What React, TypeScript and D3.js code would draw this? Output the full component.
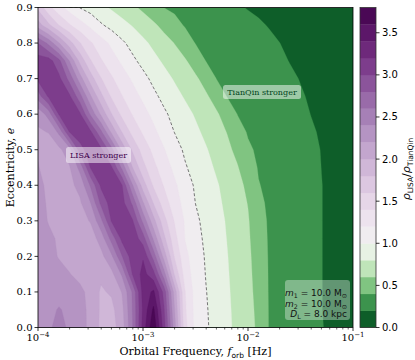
import React from "react";
import * as d3 from "d3";

// ---------- data ----------
// grid columns: log10(f_orb) from -4 to -1 in steps of 0.1 (31 columns)
const logFreqCols: number[] = d3.range(31).map((i) => -4 + i * 0.1);
// grid rows: eccentricity 0 .. 0.9 in steps of 0.05 (19 rows)
const eccRows: number[] = d3.range(19).map((i) => +(i * 0.05).toFixed(2));

// rho_LISA / rho_TianQin, one row per eccentricity
const ratioGrid: number[][] = [
  /* e=0.00 */ [2.30, 2.36, 2.48, 2.36, 2.28, 2.15, 1.96, 1.92, 2.10, 2.59, 3.28, 3.77, 3.09, 2.29, 1.47, 1.14, 1.025, 0.93, 0.84, 0.754, 0.67, 0.564, 0.392, 0.355, 0.317, 0.28, 0.243, 0.205, 0.179, 0.155, 0.13],
  /* e=0.05 */ [2.30, 2.33, 2.42, 2.34, 2.27, 2.15, 1.97, 1.945, 2.14, 2.61, 3.24, 3.64, 3.02, 2.21, 1.43, 1.133, 1.017, 0.923, 0.834, 0.748, 0.664, 0.552, 0.391, 0.353, 0.315, 0.277, 0.24, 0.202, 0.177, 0.153, 0.13],
  /* e=0.10 */ [2.30, 2.30, 2.30, 2.28, 2.26, 2.125, 1.975, 2.025, 2.21, 2.625, 3.28, 3.44, 2.93, 2.125, 1.41, 1.126, 1.006, 0.915, 0.826, 0.74, 0.656, 0.536, 0.389, 0.352, 0.314, 0.277, 0.239, 0.202, 0.177, 0.153, 0.13],
  /* e=0.15 */ [2.30, 2.28, 2.254, 2.21, 2.131, 2.05, 2.038, 2.143, 2.429, 3.012, 3.271, 3.073, 2.49, 1.785, 1.309, 1.112, 0.992, 0.904, 0.817, 0.732, 0.648, 0.522, 0.388, 0.351, 0.314, 0.277, 0.239, 0.202, 0.177, 0.153, 0.13],
  /* e=0.20 */ [2.30, 2.25, 2.19, 2.12, 2.08, 2.07, 2.14, 2.36, 2.79, 3.11, 3.18, 2.725, 2.125, 1.583, 1.257, 1.097, 0.98, 0.894, 0.808, 0.724, 0.64, 0.508, 0.386, 0.349, 0.312, 0.275, 0.239, 0.202, 0.177, 0.153, 0.13],
  /* e=0.25 */ [2.29, 2.237, 2.177, 2.118, 2.06, 2.095, 2.283, 2.675, 3.057, 3.131, 2.90, 2.368, 1.853, 1.471, 1.195, 1.069, 0.961, 0.878, 0.796, 0.712, 0.628, 0.488, 0.383, 0.347, 0.311, 0.275, 0.238, 0.202, 0.177, 0.153, 0.13],
  /* e=0.30 */ [2.28, 2.19, 2.135, 2.10, 2.125, 2.215, 2.55, 3.02, 3.15, 3.02, 2.55, 2.07, 1.673, 1.389, 1.181, 1.039, 0.943, 0.864, 0.784, 0.702, 0.616, 0.469, 0.38, 0.344, 0.308, 0.273, 0.237, 0.202, 0.177, 0.153, 0.13],
  /* e=0.35 */ [2.26, 2.178, 2.124, 2.10, 2.173, 2.395, 2.85, 3.094, 3.075, 2.763, 2.225, 1.791, 1.495, 1.296, 1.135, 0.998, 0.921, 0.842, 0.761, 0.678, 0.593, 0.437, 0.374, 0.339, 0.305, 0.27, 0.236, 0.202, 0.177, 0.153, 0.13],
  /* e=0.40 */ [2.25, 2.16, 2.11, 2.15, 2.26, 2.625, 3.04, 3.13, 3.01, 2.417, 1.90, 1.573, 1.386, 1.236, 1.093, 0.974, 0.896, 0.819, 0.738, 0.658, 0.557, 0.407, 0.368, 0.335, 0.302, 0.268, 0.235, 0.202, 0.177, 0.153, 0.13],
  /* e=0.45 */ [2.21, 2.125, 2.119, 2.184, 2.467, 3.0125, 3.144, 3.025, 2.553, 2.003, 1.664, 1.452, 1.297, 1.155, 1.019, 0.933, 0.856, 0.776, 0.694, 0.612, 0.484, 0.388, 0.356, 0.325, 0.293, 0.262, 0.23, 0.199, 0.174, 0.149, 0.125],
  /* e=0.50 */ [2.18, 2.11, 2.156, 2.317, 2.917, 3.12, 3.05, 2.675, 2.15, 1.769, 1.517, 1.353, 1.213, 1.081, 0.97, 0.893, 0.815, 0.732, 0.648, 0.547, 0.424, 0.376, 0.346, 0.316, 0.286, 0.256, 0.226, 0.196, 0.171, 0.145, 0.12],
  /* e=0.55 */ [2.18, 2.206, 2.444, 3.006, 3.132, 3.0375, 2.643, 2.159, 1.793, 1.536, 1.375, 1.244, 1.118, 0.996, 0.917, 0.838, 0.758, 0.677, 0.594, 0.467, 0.386, 0.358, 0.329, 0.30, 0.271, 0.242, 0.214, 0.187, 0.161, 0.136, 0.11],
  /* e=0.60 */ [2.25, 2.48, 3.02, 3.14, 3.03, 2.57, 2.17, 1.81, 1.55, 1.39, 1.27, 1.15, 1.033, 0.942, 0.862, 0.781, 0.704, 0.626, 0.513, 0.396, 0.368, 0.34, 0.312, 0.284, 0.256, 0.228, 0.198, 0.175, 0.15, 0.125, 0.10],
  /* e=0.65 */ [2.70, 3.027, 3.139, 3.036, 2.674, 2.229, 1.857, 1.576, 1.408, 1.282, 1.161, 1.044, 0.948, 0.864, 0.782, 0.705, 0.629, 0.516, 0.396, 0.37, 0.343, 0.317, 0.291, 0.264, 0.238, 0.211, 0.187, 0.164, 0.141, 0.118, 0.095],
  /* e=0.70 */ [3.05, 3.14, 3.05, 2.73, 2.29, 1.90, 1.61, 1.425, 1.294, 1.172, 1.056, 0.954, 0.867, 0.782, 0.707, 0.632, 0.52, 0.396, 0.371, 0.346, 0.32, 0.295, 0.27, 0.245, 0.219, 0.195, 0.174, 0.153, 0.132, 0.111, 0.09],
  /* e=0.75 */ [3.10, 3.09, 2.86, 2.39, 1.94, 1.615, 1.418, 1.288, 1.165, 1.041, 0.942, 0.854, 0.771, 0.696, 0.621, 0.506, 0.395, 0.37, 0.345, 0.32, 0.295, 0.27, 0.245, 0.22, 0.196, 0.177, 0.158, 0.138, 0.119, 0.099, 0.08],
  /* e=0.80 */ [2.80, 2.55, 2.21, 1.88, 1.61, 1.425, 1.288, 1.159, 1.035, 0.935, 0.843, 0.758, 0.677, 0.595, 0.484, 0.394, 0.37, 0.346, 0.322, 0.298, 0.274, 0.249, 0.225, 0.201, 0.182, 0.163, 0.145, 0.126, 0.107, 0.089, 0.07],
  /* e=0.85 */ [2.10, 1.85, 1.60, 1.42, 1.288, 1.156, 1.025, 0.939, 0.864, 0.789, 0.711, 0.633, 0.545, 0.45, 0.388, 0.364, 0.339, 0.314, 0.289, 0.265, 0.24, 0.215, 0.194, 0.177, 0.16, 0.144, 0.127, 0.11, 0.094, 0.077, 0.06],
  /* e=0.90 */ [1.75, 1.46, 1.267, 1.119, 0.993, 0.921, 0.848, 0.777, 0.707, 0.637, 0.56, 0.476, 0.398, 0.371, 0.345, 0.319, 0.293, 0.266, 0.24, 0.214, 0.193, 0.179, 0.165, 0.15, 0.136, 0.122, 0.107, 0.093, 0.079, 0.064, 0.05],
];

// contour levels 0.0 .. 3.8 step 0.2
const levels: number[] = d3.range(20).map((i) => +(i * 0.2).toFixed(1));
const cbTicks: number[] = [0, 0.5, 1.0, 1.5, 2.0, 2.5, 3.0, 3.5];
const xMajorTicks: number[] = [1e-4, 1e-3, 1e-2, 1e-1];
const xMajorExps: number[] = [-4, -3, -2, -1];
const yTicks: number[] = d3.range(10).map((i) => +(i * 0.1).toFixed(1));
const paramLines: string[][] = [
  ["m", "1", " = 10.0 M"],
  ["m", "2", " = 10.0 M"],
  ["D", "L", " = 8.0 kpc"],
];
const CENTER = 1.0;

// ---------- layout ----------
const P = { left: 38, right: 353, top: 7.5, bottom: 327.5 };
const CB = { left: 360, right: 376 };

const norm = (v: number) =>
  v < CENTER ? 0.5 * (v / CENTER) : 0.5 + 0.5 * ((v - CENTER) / (levels[levels.length - 1] - CENTER));
const bandColor = (lo: number) => d3.interpolatePRGn(1 - norm(lo + 0.1));

export default function App() {
  const nx = logFreqCols.length;
  const ny = eccRows.length;
  const values = ratioGrid.flat();

  const xScale = d3.scaleLog().domain([1e-4, 1e-1]).range([P.left, P.right]);
  const yScale = d3.scaleLinear().domain([0, 0.9]).range([P.bottom, P.top]);
  const colIdx = d3.scaleLinear().domain([0, nx - 1]).range([logFreqCols[0], logFreqCols[nx - 1]]).clamp(true);
  const rowIdx = d3.scaleLinear().domain([0, ny - 1]).range([eccRows[0], eccRows[ny - 1]]).clamp(true);
  const px = (c: number) => xScale(Math.pow(10, colIdx(c - 0.5)));
  const py = (c: number) => yScale(rowIdx(c - 0.5));

  const proj = d3.geoTransform({
    point(x: number, y: number) {
      (this as any).stream.point(px(x), py(y));
    },
  });
  const path = d3.geoPath(proj);

  const gen = d3.contours().size([nx, ny]).thresholds(levels.slice(1, levels.length - 1));
  const polys = gen(values);

  // dashed contour at ratio = 1
  const one = d3.contours().size([nx, ny]).contour(values, CENTER);
  let dashed = "";
  const onEdge = (a: number[], b: number[]) =>
    (a[0] === 0 && b[0] === 0) || (a[0] === nx && b[0] === nx) || (a[1] === 0 && b[1] === 0) || (a[1] === ny && b[1] === ny);
  one.coordinates.forEach((poly: number[][][]) => {
    poly.forEach((ring) => {
      let pen = false;
      for (let i = 1; i < ring.length; i++) {
        const a = ring[i - 1], b = ring[i];
        if (onEdge(a, b)) { pen = false; continue; }
        if (!pen) { dashed += `M${px(a[0]).toFixed(2)},${py(a[1]).toFixed(2)}`; pen = true; }
        dashed += `L${px(b[0]).toFixed(2)},${py(b[1]).toFixed(2)}`;
      }
    });
  });

  const cbY = d3.scaleLinear().domain([0, levels[levels.length - 1]]).range([P.bottom, P.top]);

  const minorX: number[] = [];
  [-4, -3, -2].forEach((e) => d3.range(2, 10).forEach((m) => minorX.push(m * Math.pow(10, e))));

  return (
    <svg width={415} height={360} style={{ position: "absolute", left: 0, top: 0, background: "#fff" }} fontFamily="DejaVu Serif">
      <defs>
        <clipPath id="plotClip">
          <rect x={P.left} y={P.top} width={P.right - P.left} height={P.bottom - P.top} />
        </clipPath>
      </defs>
      <g clipPath="url(#plotClip)">
        <rect x={P.left} y={P.top} width={P.right - P.left} height={P.bottom - P.top} fill={bandColor(levels[0])} />
        {polys.map((p: any, i: number) => (
          <path key={i} d={path(p) || ""} fill={bandColor(p.value)} fillRule="evenodd" stroke={bandColor(p.value)} strokeWidth={0.3} />
        ))}
        <path d={dashed} fill="none" stroke="#555" strokeWidth={0.8} strokeDasharray="3,2" />
      </g>

      {/* annotations */}
      <rect x={66} y={147} width={65} height={16} rx={2.5} fill="#fff" fillOpacity={0.5} />
      <text x={98.5} y={158} textAnchor="middle" fontSize={8} fill="#40004b">LISA stronger</text>
      <rect x={223} y={85} width={78} height={14} rx={2.5} fill="#fff" fillOpacity={0.5} />
      <text x={262} y={95} textAnchor="middle" fontSize={8} fill="#00441b">TianQin stronger</text>

      <rect x={285} y={280} width={65} height={40} rx={3} fill="#fff" fillOpacity={0.35} />
      {paramLines.map((l, i) => (
        <text key={i} x={347} y={296 + i * 10.5} textAnchor="end" fontFamily="DejaVu Sans" fontSize={9} fill="#111">
          <tspan fontStyle="italic">{l[0]}</tspan>
          <tspan fontSize={6.3} dy={2}>{l[1]}</tspan>
          <tspan dy={-2}>{l[2]}</tspan>
          {i < 2 ? <tspan fontSize={6.3} dy={2}>⊙</tspan> : null}
        </text>
      ))}

      {/* frame */}
      <rect x={P.left} y={P.top} width={P.right - P.left} height={P.bottom - P.top} fill="none" stroke="#000" strokeWidth={0.8} />

      {/* x ticks */}
      {minorX.map((t, i) => (
        <line key={"mx" + i} x1={xScale(t)} x2={xScale(t)} y1={P.bottom} y2={P.bottom + 2} stroke="#000" strokeWidth={0.6} />
      ))}
      {xMajorTicks.map((t, i) => (
        <g key={"x" + i}>
          <line x1={xScale(t)} x2={xScale(t)} y1={P.bottom} y2={P.bottom + 3.5} stroke="#000" strokeWidth={0.8} />
          <text x={xScale(t)} y={341} textAnchor="middle" fontSize={10} fill="#000">
            10<tspan fontSize={7} dy={-4}>{"\u2212" + Math.abs(xMajorExps[i])}</tspan>
          </text>
        </g>
      ))}

      {/* y ticks */}
      {yTicks.map((t, i) => (
        <g key={"y" + i}>
          <line x1={P.left - 3.5} x2={P.left} y1={yScale(t)} y2={yScale(t)} stroke="#000" strokeWidth={0.8} />
          <text x={P.left - 5.5} y={yScale(t)} dy="0.32em" textAnchor="end" fontSize={10} fill="#000">{t.toFixed(1)}</text>
        </g>
      ))}

      {/* axis labels */}
      <text transform={`translate(14,${(P.top + P.bottom) / 2}) rotate(-90)`} textAnchor="middle" fontSize={11} fill="#000">
        Eccentricity, <tspan fontStyle="italic">e</tspan>
      </text>
      <text x={(P.left + P.right) / 2} y={355} textAnchor="middle" fontSize={11} fill="#000">
        Orbital Frequency, <tspan fontStyle="italic">f</tspan>
        <tspan fontFamily="DejaVu Sans" fontSize={7.5} dy={2.5}>orb</tspan>
        <tspan dy={-2.5}> [Hz]</tspan>
      </text>

      {/* colorbar */}
      {levels.slice(0, levels.length - 1).map((lo, i) => (
        <rect key={"cb" + i} x={CB.left} width={CB.right - CB.left} y={cbY(levels[i + 1])} height={cbY(lo) - cbY(levels[i + 1]) + 0.3} fill={bandColor(lo)} />
      ))}
      <rect x={CB.left} y={P.top} width={CB.right - CB.left} height={P.bottom - P.top} fill="none" stroke="#333" strokeWidth={0.8} />
      {cbTicks.map((t, i) => (
        <g key={"cbt" + i}>
          <line x1={CB.right} x2={CB.right + 3.5} y1={cbY(t)} y2={cbY(t)} stroke="#000" strokeWidth={0.8} />
          <text x={CB.right + 6} y={cbY(t)} dy="0.35em" fontFamily="DejaVu Sans" fontSize={10} fill="#000">{t.toFixed(1)}</text>
        </g>
      ))}
      <text transform={`translate(410,169) rotate(-90)`} textAnchor="middle" fontFamily="DejaVu Sans" fontSize={11} fill="#000">
        <tspan fontStyle="italic">ρ</tspan>
        <tspan fontSize={7.5} dy={2.5}>LISA</tspan>
        <tspan dy={-2.5}>/</tspan>
        <tspan fontStyle="italic">ρ</tspan>
        <tspan fontSize={7.5} dy={2.5}>TianQin</tspan>
      </text>
    </svg>
  );
}
